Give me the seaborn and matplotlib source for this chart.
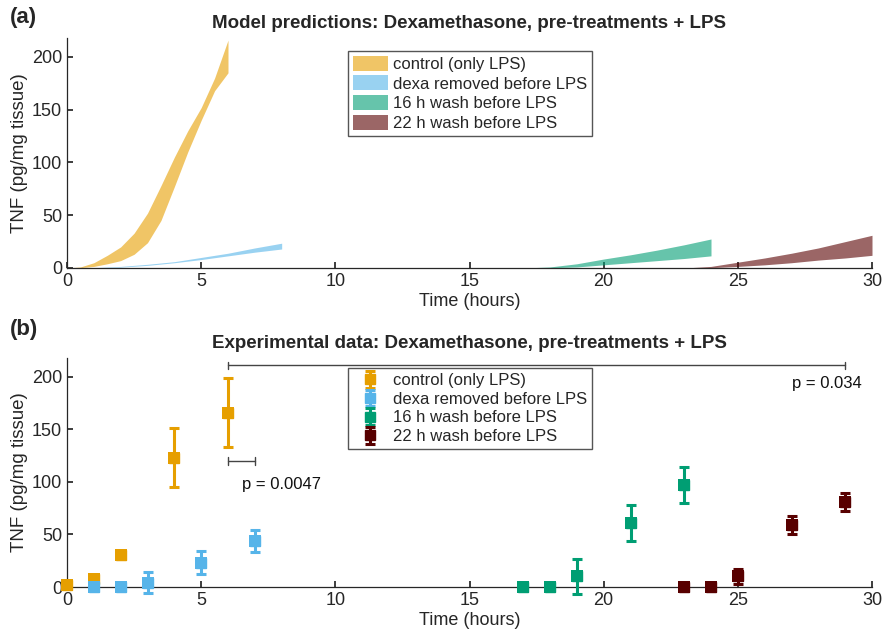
import numpy as np
import pandas as pd
import matplotlib
matplotlib.use("Agg")
import matplotlib.pyplot as plt
import seaborn as sns

# ---------------- data ----------------
labels = ["control (only LPS)", "dexa removed before LPS",
          "16 h wash before LPS", "22 h wash before LPS"]
colors = ["#E69F00", "#56B4E9", "#009E73", "#580000"]

# model prediction bands (a)
t_ctrl = [0, 0.5, 1, 1.5, 2, 2.5, 3, 3.5, 4, 4.5, 5, 5.5, 6]
lo_ctrl = [0, 0.3, 1.5, 4, 7, 13, 24, 45, 77, 110, 140, 168, 185]
hi_ctrl = [0, 1, 5, 12, 20, 33, 52, 78, 105, 130, 152, 180, 216]

t_dexa = [0, 1, 2, 3, 4, 5, 6, 7, 8]
lo_dexa = [0, 0.1, 0.8, 2.5, 5, 8, 11.5, 15, 18]
hi_dexa = [0, 0.3, 1.5, 3.5, 6, 10, 14, 19, 23.5]

t_w16 = [17, 18, 19, 20, 21, 22, 23, 24]
lo_w16 = [0, 0.2, 1, 3, 5, 7, 9, 11.5]
hi_w16 = [0, 1, 4, 8.5, 12.5, 17, 22, 27.5]

t_w22 = [23, 24, 25, 26, 27, 28, 29, 30]
lo_w22 = [0, 0.3, 1.5, 3, 5, 7.5, 9.5, 12]
hi_w22 = [0, 1.5, 5.5, 9.5, 14, 19, 25, 31]

# experimental data (b)
x_ctrl = [0, 1, 2, 4, 6]
y_ctrl = [2, 8, 30, 123, 166]
e_ctrl = [0.5, 1, 3, 28, 33]

x_dexa = [1, 2, 3, 5, 7]
y_dexa = [0, 0, 4, 23, 44]
e_dexa = [0, 0, 10, 11, 10.5]

x_w16 = [17, 18, 19, 21, 23]
y_w16 = [0, 0, 10, 61, 97]
e_w16 = [0, 0, 17, 17, 17]

x_w22 = [23, 24, 25, 27, 29]
y_w22 = [0, 0, 10, 59, 81]
e_w22 = [0, 0, 7.5, 8.5, 8.5]

xticks = [0, 5, 10, 15, 20, 25, 30]
yticks = [0, 50, 100, 150, 200]

# ---------------- style ----------------
sns.set_theme(style="ticks")
plt.rcParams["font.family"] = ["Liberation Sans", "DejaVu Sans"]
dark = "#262626"
plt.rcParams.update({
    "xtick.direction": "in", "ytick.direction": "in",
    "xtick.major.size": 4, "ytick.major.size": 4,
    "xtick.color": dark, "ytick.color": dark,
    "axes.edgecolor": dark, "axes.linewidth": 0.9,
    "xtick.labelsize": 13, "ytick.labelsize": 13,
})

fig = plt.figure(figsize=(8.83, 6.4), dpi=100)
axA = fig.add_axes([67/883, 1-268/640, 805/883, 230/640])
axB = fig.add_axes([67/883, 1-587/640, 805/883, 229/640])

# ---------------- panel (a) ----------------
bands = [(t_ctrl, lo_ctrl, hi_ctrl), (t_dexa, lo_dexa, hi_dexa),
         (t_w16, lo_w16, hi_w16), (t_w22, lo_w22, hi_w22)]
for (t, lo, hi), c, lab in zip(bands, colors, labels):
    axA.fill_between(t, lo, hi, color=c, alpha=0.6, lw=0, label=lab)

axA.legend(loc="upper left", bbox_to_anchor=(0.349, 0.945), fontsize=12,
           frameon=True, fancybox=False, edgecolor="#555555",
           framealpha=1, labelspacing=0.22, handlelength=2.1,
           handleheight=1.0, handletextpad=0.3, borderpad=0.3,
           borderaxespad=0)
axA.set_title("Model predictions: Dexamethasone, pre-treatments + LPS",
              fontsize=13.5, fontweight="bold", pad=7)

# ---------------- panel (b) ----------------
groups = [(x_ctrl, y_ctrl, e_ctrl), (x_dexa, y_dexa, e_dexa),
          (x_w16, y_w16, e_w16), (x_w22, y_w22, e_w22)]
handles = []
for (x, y, e), c, lab in zip(groups, colors, labels):
    h = axB.errorbar(x, y, yerr=e, fmt="s", color=c, ms=7.5, mec=c,
                     elinewidth=2.2, capsize=3.5, capthick=2.2,
                     label=lab, clip_on=False, zorder=3)
    handles.append(h)
    df = pd.DataFrame({"t": x, "v": y})
    sns.scatterplot(data=df, x="t", y="v", ax=axB, marker="s", s=70,
                    color=c, linewidth=0, legend=False, clip_on=False,
                    zorder=4)

br = "#444444"
axB.plot([6, 7], [120, 120], color=br, lw=1)
axB.plot([6, 6], [116.5, 123.5], color=br, lw=1)
axB.plot([7, 7], [116.5, 123.5], color=br, lw=1)
axB.text(6.52, 98, "p = 0.0047", fontsize=12, va="center", ha="left",
         color="#111111")
axB.plot([6, 29], [211, 211], color=br, lw=1)
axB.plot([6, 6], [207.5, 214.5], color=br, lw=1)
axB.plot([29, 29], [207.5, 214.5], color=br, lw=1)
axB.text(27.0, 194, "p = 0.034", fontsize=12, va="center", ha="left",
         color="#111111")

axB.legend(handles=handles, labels=labels, loc="upper left",
           bbox_to_anchor=(0.349, 0.956), fontsize=12, frameon=True,
           fancybox=False, edgecolor="#555555", framealpha=1,
           labelspacing=0.22, handlelength=2.1, handletextpad=0.3,
           borderpad=0.3, borderaxespad=0)
axB.set_title("Experimental data: Dexamethasone, pre-treatments + LPS",
              fontsize=13.5, fontweight="bold", pad=7)

for ax in (axA, axB):
    ax.set_xlim(0, 30)
    ax.set_ylim(0, 218)
    ax.set_xticks(xticks)
    ax.set_yticks(yticks)
    ax.set_xlabel("Time (hours)", fontsize=13, color=dark, labelpad=2)
    ax.set_ylabel("TNF (pg/mg tissue)", fontsize=13.5, color=dark,
                  labelpad=3)
    sns.despine(ax=ax)

fig.text(10/883, 1-18/640, "(a)", fontsize=16, fontweight="bold",
         va="center", ha="left")
fig.text(10/883, 1-330/640, "(b)", fontsize=16, fontweight="bold",
         va="center", ha="left")

fig.savefig("out.png", dpi=100)
